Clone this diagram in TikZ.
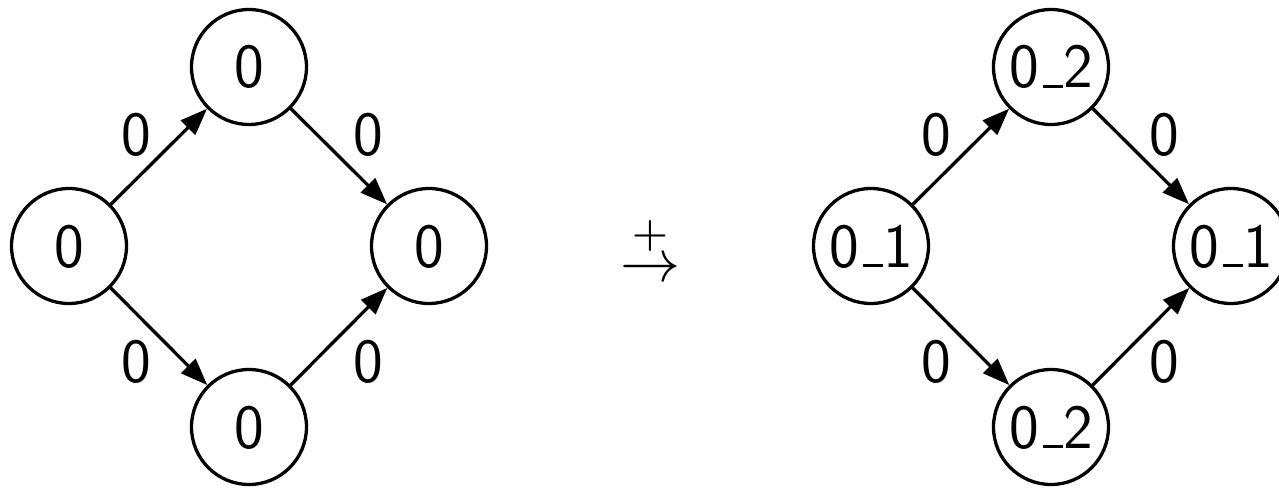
\documentclass[tikz,border=0pt]{standalone}
\usepackage{fontspec}
\usetikzlibrary{arrows.meta}
\newcommand\myus{\leavevmode\kern.06em\vbox{\hrule height .05em width .33em}}
\tikzset{
  st/.style={circle, draw, line width=3.3pt, minimum size=115pt, inner sep=0pt,
    font=\fontsize{63}{70}\selectfont\sffamily, text height=42pt, text depth=0pt},
  lbl/.style={inner sep=0pt, font=\fontsize{63}{70}\selectfont\sffamily, text height=42pt, text depth=0pt},
  arr/.style={line width=3.3pt, -{Triangle[length=27pt,width=20pt]}}
}
\begin{document}
\begin{tikzpicture}[x=1pt,y=-1pt]
\useasboundingbox (0,0) rectangle (1279,487);
% left graph
\node[st] (a) at (69,246) {0};
\node[st] (b) at (249,67) {0};
\node[st] (c) at (249,427) {0};
\node[st] (d) at (429,246) {0};
\draw[arr] (a) -- (b);
\draw[arr] (a) -- (c);
\draw[arr] (b) -- (d);
\draw[arr] (c) -- (d);
\node[lbl] (la1) at (136,134) {0};
\node[lbl] (la2) at (368,134) {0};
\node[lbl] (la3) at (136,361) {0};
\node[lbl] (la4) at (368,361) {0};
% middle
\node[inner sep=0pt, anchor=base, scale=6] (m) at (650,281) {$\stackrel{+}{\to}$};
% right graph
\node[st] (e) at (871,246) {0\myus 1};
\node[st] (f) at (1051,67) {0\myus 2};
\node[st] (g) at (1051,427) {0\myus 2};
\node[st] (h) at (1231,246) {0\myus 1};
\draw[arr] (e) -- (f);
\draw[arr] (e) -- (g);
\draw[arr] (f) -- (h);
\draw[arr] (g) -- (h);
\node[lbl] (lb1) at (936,134) {0};
\node[lbl] (lb2) at (1164,134) {0};
\node[lbl] (lb3) at (936,361) {0};
\node[lbl] (lb4) at (1164,361) {0};
\end{tikzpicture}
\end{document}
